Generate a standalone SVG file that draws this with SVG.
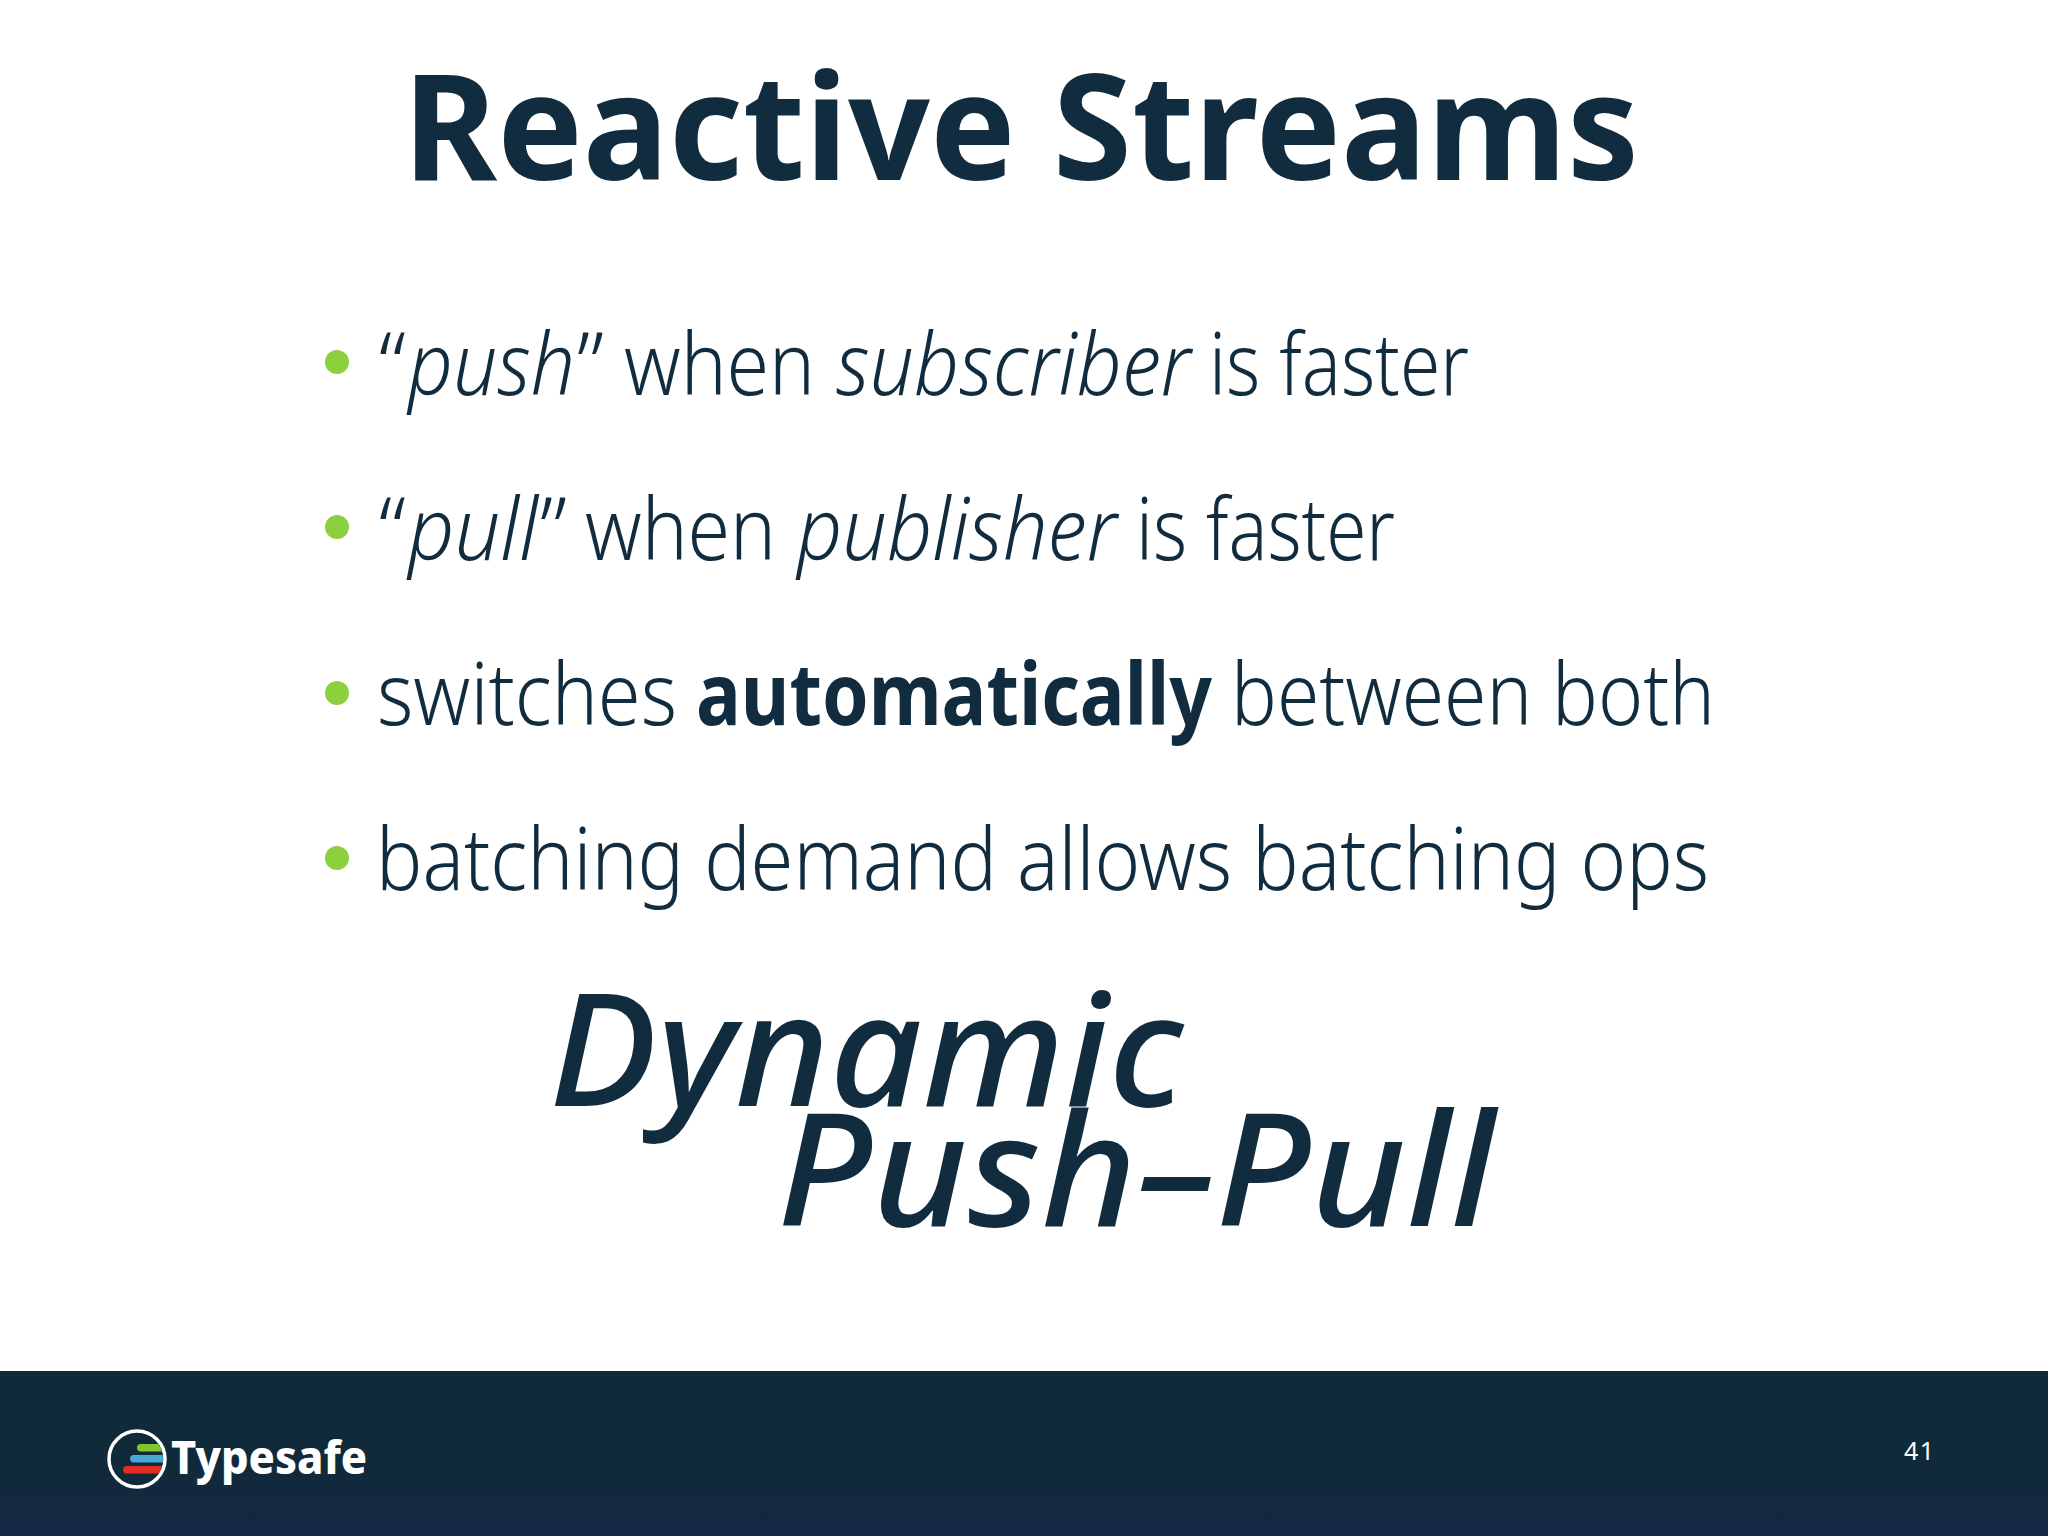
<svg xmlns="http://www.w3.org/2000/svg" width="2048" height="1536" viewBox="0 0 2048 1536">
<defs>
<linearGradient id="fg" x1="0" y1="0" x2="0" y2="1"><stop offset="0" stop-color="#112a3a"/><stop offset="0.6" stop-color="#112a3b"/><stop offset="1" stop-color="#142843"/></linearGradient>
<clipPath id="lc"><circle cx="137" cy="1459" r="26"/></clipPath>
</defs>
<style>
text{font-family:"Noto Sans","Open Sans",sans-serif;fill:#122c3f}
.b{font-size:86px;font-weight:300}
.i{font-style:italic}
.s{font-weight:700}
.d{font-size:157px;font-style:italic;font-weight:500}
.dot{fill:#8ccf3f}
</style>
<rect width="2048" height="1536" fill="#fff"/>
<text id="title" x="403" y="180" font-size="148" font-weight="700" textLength="1236" lengthAdjust="spacingAndGlyphs">Reactive Streams</text>
<g id="bullets">
<circle class="dot" cx="337" cy="362" r="12"/>
<text class="b" y="395"><tspan x="379">“</tspan><tspan class="i" x="408" textLength="167" lengthAdjust="spacingAndGlyphs">push</tspan><tspan x="577">”</tspan> <tspan x="624" textLength="191" lengthAdjust="spacingAndGlyphs">when</tspan> <tspan class="i" x="836" textLength="355" lengthAdjust="spacingAndGlyphs">subscriber</tspan> <tspan x="1209" textLength="260" lengthAdjust="spacingAndGlyphs">is faster</tspan></text>
<circle class="dot" cx="337" cy="527" r="12"/>
<text class="b" y="560"><tspan x="379">“</tspan><tspan class="i" x="408" textLength="130" lengthAdjust="spacingAndGlyphs">pull</tspan><tspan x="540">”</tspan> <tspan x="585" textLength="191" lengthAdjust="spacingAndGlyphs">when</tspan> <tspan class="i" x="797" textLength="320" lengthAdjust="spacingAndGlyphs">publisher</tspan> <tspan x="1136" textLength="259" lengthAdjust="spacingAndGlyphs">is faster</tspan></text>
<circle class="dot" cx="337" cy="693" r="12"/>
<text class="b" y="725"><tspan x="377" textLength="300" lengthAdjust="spacingAndGlyphs">switches</tspan> <tspan class="s" x="696" textLength="516" lengthAdjust="spacingAndGlyphs">automatically</tspan> <tspan x="1231" textLength="484" lengthAdjust="spacingAndGlyphs">between both</tspan></text>
<circle class="dot" cx="337" cy="858" r="12"/>
<text class="b" x="376" y="890" textLength="1333" lengthAdjust="spacingAndGlyphs">batching demand allows batching ops</text>
</g>
<text class="d" x="549" y="1106" textLength="634" lengthAdjust="spacingAndGlyphs">Dynamic</text>
<text class="d" x="777" y="1226" textLength="718" lengthAdjust="spacingAndGlyphs">Push–Pull</text>
<rect id="footer" y="1371" width="2048" height="165" fill="url(#fg)"/>
<g id="logo">
<circle cx="137" cy="1459" r="28" fill="#112a3a" stroke="#fff" stroke-width="3.5"/>
<g clip-path="url(#lc)">
<rect x="137" y="1444" width="40" height="7.5" rx="3.7" fill="#7fc62f"/>
<rect x="130" y="1455" width="50" height="7.5" rx="3.7" fill="#46a9d4"/>
<rect x="123" y="1466" width="60" height="7.5" rx="3.7" fill="#e22d26"/>
</g>
<text x="171" y="1474" font-size="47" font-weight="800" style="fill:#fff" textLength="196" lengthAdjust="spacingAndGlyphs">Typesafe</text>
</g>
<text id="page" x="1904" y="1460" font-size="25" style="fill:#fff" textLength="30">41</text>
</svg>
